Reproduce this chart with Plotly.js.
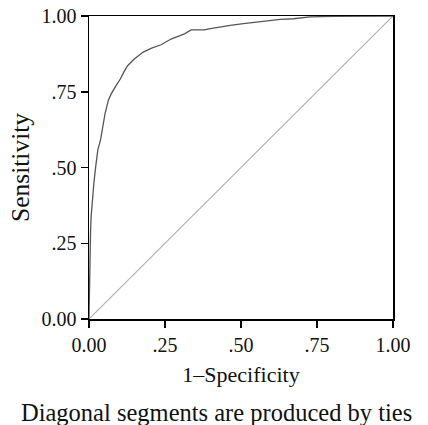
<!DOCTYPE html>
<html>
<head>
<meta charset="utf-8">
<script src="https://cdn.plot.ly/plotly-3.0.1.min.js"></script>
<style>html,body{margin:0;padding:0;background:#fff;}#chart{width:428px;height:425px;}</style>
</head>
<body>
<div id="chart"></div>
<script>
// ROC curve points
const fpr = [0, 0.001, 0.003, 0.005, 0.007, 0.011, 0.016, 0.022, 0.029, 0.038, 0.045, 0.053, 0.064, 0.073, 0.089, 0.103, 0.114, 0.127, 0.149, 0.177, 0.204, 0.237, 0.270, 0.314, 0.336, 0.379, 0.399, 0.432, 0.465, 0.508, 0.547, 0.585, 0.629, 0.673, 0.727, 0.804, 1];
const tpr = [0, 0.085, 0.195, 0.284, 0.338, 0.393, 0.448, 0.503, 0.558, 0.591, 0.635, 0.679, 0.723, 0.743, 0.770, 0.792, 0.814, 0.836, 0.858, 0.880, 0.893, 0.905, 0.924, 0.941, 0.954, 0.954, 0.958, 0.964, 0.969, 0.975, 0.980, 0.983, 0.989, 0.991, 0.997, 0.999, 1];
const refLine = [0, 1];
const tickVals = [0, 0.25, 0.5, 0.75, 1];
const tickText = ["0.00", ".25", ".50", ".75", "1.00"];
const xTitle = "1\u2013Specificity";
const yTitle = "Sensitivity";
const note = "Diagonal segments are produced by ties";

const FONT = "Liberation Serif, Times New Roman, serif";
const traces = [
  {x: refLine, y: refLine, mode: "lines", line: {color: "#b0b0b0", width: 1.2}, hoverinfo: "skip"},
  {x: fpr, y: tpr, mode: "lines", line: {color: "#555555", width: 1.3}, hoverinfo: "skip"}
];
const axisCommon = {
  range: [0, 1], tickvals: tickVals, ticktext: tickText,
  showgrid: false, zeroline: false, showline: true, mirror: true,
  linecolor: "#000", linewidth: 1.5, ticks: "outside", ticklen: 7, tickwidth: 1.5, tickcolor: "#000",
  tickfont: {family: FONT, size: 20, color: "#111"}, fixedrange: true
};
const layout = {
  width: 428, height: 425,
  margin: {l: 88.5, r: 35, t: 16, b: 106},
  paper_bgcolor: "#fff", plot_bgcolor: "#fff",
  showlegend: false,
  font: {family: FONT, color: "#111"},
  xaxis: Object.assign({}, axisCommon, {title: {text: xTitle, font: {family: FONT, size: 22, color: "#111"}, standoff: 12}}),
  yaxis: Object.assign({}, axisCommon, {title: {text: yTitle, font: {family: FONT, size: 25.5, color: "#111"}, standoff: 4}}),
  annotations: [{
    text: note, xref: "paper", yref: "paper", x: 0.42, y: -0.31, xanchor: "center", yanchor: "middle",
    showarrow: false, font: {family: FONT, size: 24.5, color: "#111"}
  }]
};
Plotly.newPlot("chart", traces, layout, {displayModeBar: false, staticPlot: true});
</script>
</body>
</html>
